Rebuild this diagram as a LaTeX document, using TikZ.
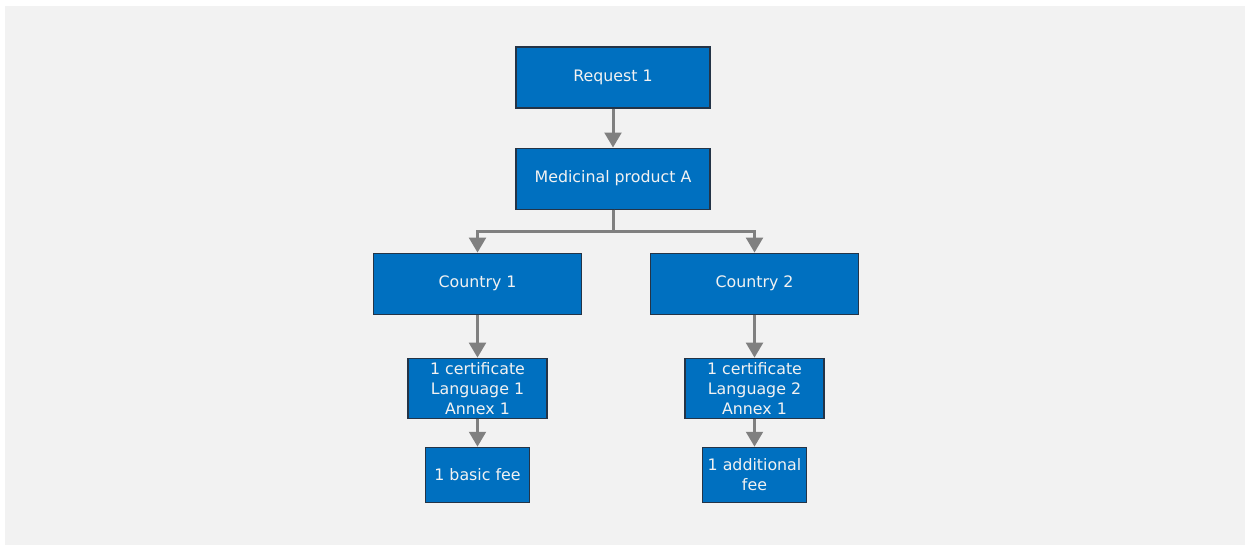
\documentclass[tikz,border=0pt]{standalone}
\usepackage{fontspec}
\setmainfont{DejaVu Sans}
\usetikzlibrary{arrows.meta, positioning}
\definecolor{boxblue}{HTML}{0070C0}
\definecolor{boxline}{HTML}{243447}
\definecolor{arrowgray}{HTML}{808080}
\definecolor{bggray}{HTML}{F2F2F2}
\tikzset{
    block/.style={rectangle, draw=boxline, line width=0.6pt, fill=boxblue, text=bggray, align=center, font=\fontsize{9}{11.4}\selectfont, inner sep=2pt},
    arrow/.style={draw=arrowgray, line width=1.7pt, -{Triangle[width=9.5pt,length=8.5pt]}}
}

\begin{document}
\begin{tikzpicture}[node distance=0.78cm]
    \useasboundingbox (0,0) rectangle (25,-10.98);
    \fill[bggray] (0.1,-0.12) rectangle (24.9,-10.9);

    \node (request) [block, minimum width=3.88cm, minimum height=1.22cm] at (12.26,-1.55) {Request 1};
    \node (product) [block, minimum width=3.88cm, minimum height=1.22cm, below=of request] {Medicinal product A};

    \node (country1) [block, minimum width=4.16cm, minimum height=1.22cm, below=0.86cm of product, xshift=-2.71cm] {Country 1};
    \node (country2) [block, minimum width=4.16cm, minimum height=1.22cm, below=0.86cm of product, xshift=2.83cm] {Country 2};

    \node (cert1) [block, minimum width=2.78cm, minimum height=1.2cm, below=0.86cm of country1] {1 certificate\\Language 1\\Annex 1};
    \node (cert2) [block, minimum width=2.78cm, minimum height=1.2cm, below=0.86cm of country2] {1 certificate\\Language 2\\Annex 1};

    \node (fee1) [block, minimum width=2.08cm, minimum height=1.1cm, below=0.56cm of cert1] {1 basic fee};
    \node (fee2) [block, minimum width=2.08cm, minimum height=1.1cm, below=0.56cm of cert2] {1 additional\\fee};

    \draw [arrow] (request) -- (product);
    \draw [arrow] (product.south) -- ++(0,-0.44) -| (country1);
    \draw [arrow] (product.south) -- ++(0,-0.44) -| (country2);
    \draw [arrow] (country1) -- (cert1);
    \draw [arrow] (country2) -- (cert2);
    \draw [arrow] (cert1) -- (fee1);
    \draw [arrow] (cert2) -- (fee2);
\end{tikzpicture}
\end{document}
